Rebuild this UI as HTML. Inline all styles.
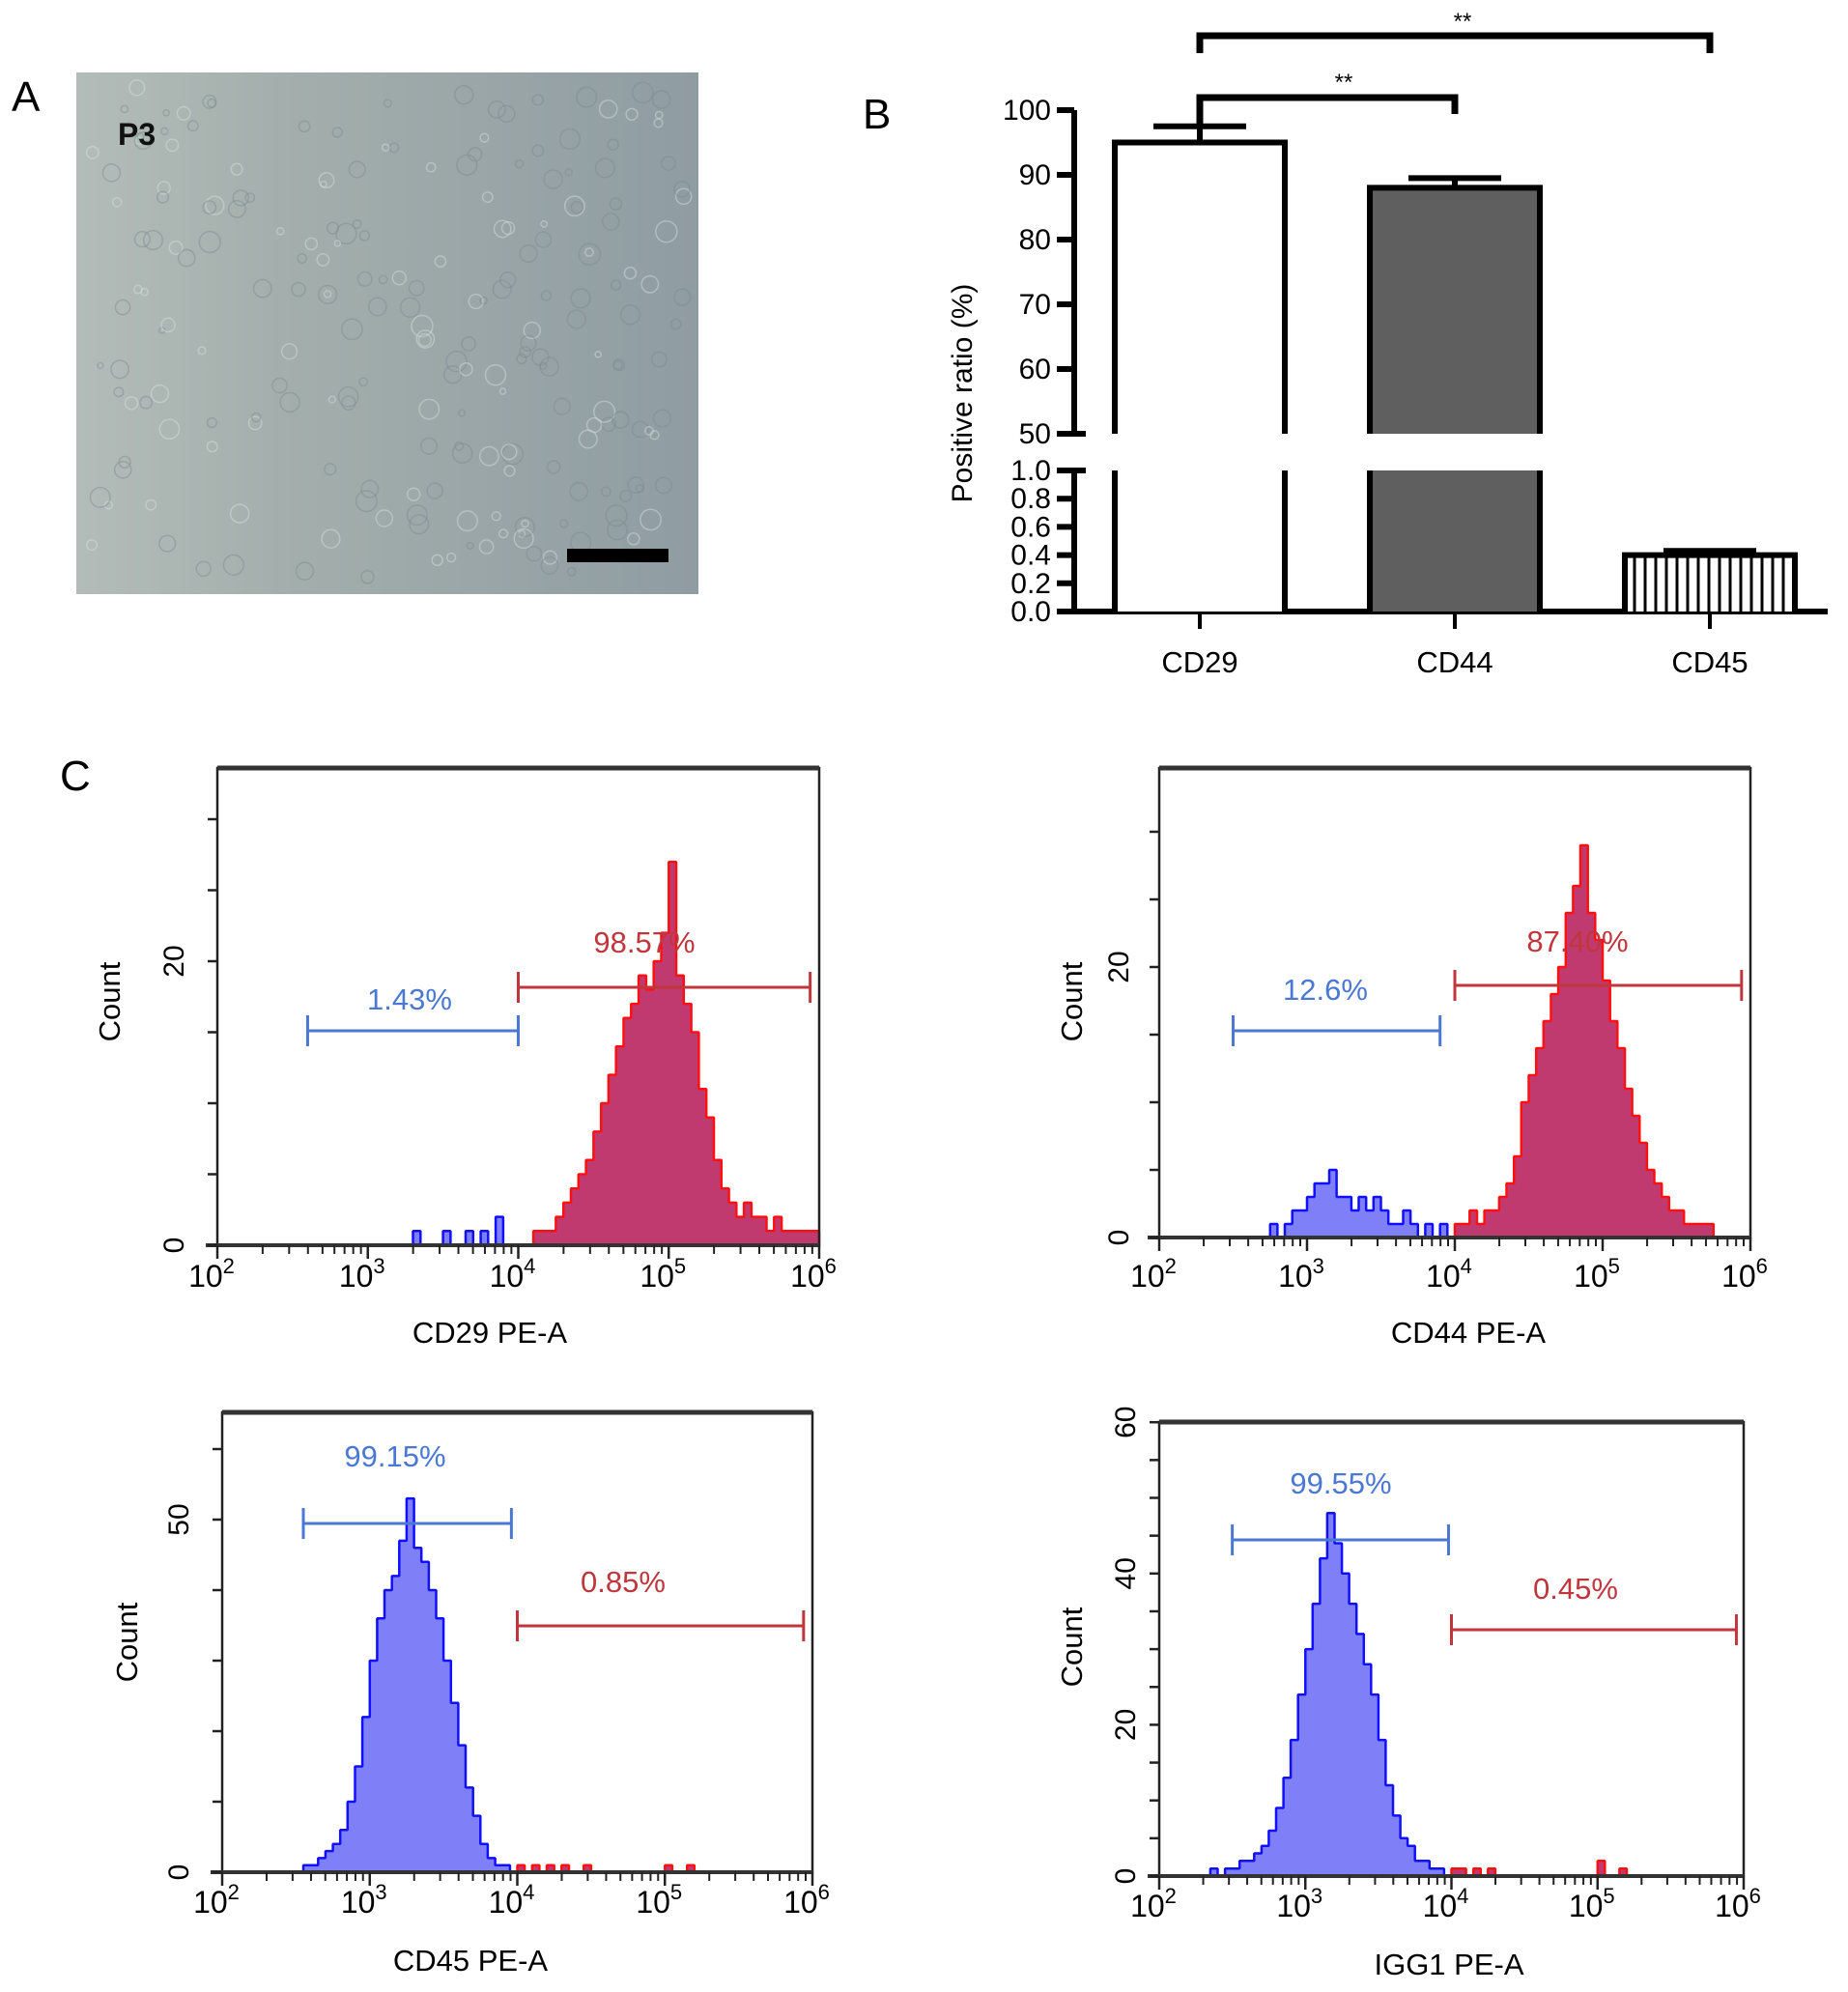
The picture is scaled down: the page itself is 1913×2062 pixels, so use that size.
<!DOCTYPE html>
<html><head><meta charset="utf-8"><style>
html,body{margin:0;padding:0;background:#fff;}
svg{display:block;font-family:"Liberation Sans",Arial,sans-serif;}
</style></head><body>
<svg id="fig" width="1913" height="2062" viewBox="0 0 1913 2062" xmlns="http://www.w3.org/2000/svg">
<defs>
<linearGradient id="micro" x1="0" y1="0" x2="1" y2="0">
<stop offset="0" stop-color="#b3bcb8"/><stop offset="0.35" stop-color="#a3aeac"/><stop offset="1" stop-color="#8f9ca2"/>
</linearGradient>
</defs>
<g>
<text x="12" y="115" font-size="44">A</text>
<rect x="79" y="75" width="644" height="540" fill="url(#micro)"/>
<g id="cells"></g>
<text x="122" y="150" font-size="32" font-weight="bold" fill="#111">P3</text>
<rect x="587" y="568" width="105" height="14" fill="#000"/>
</g>
<g id="panelB">
<text x="893" y="133" font-size="44">B</text>
</g>
<g id="panelC">
<text x="62" y="818" font-size="44">C</text>
</g>
</svg>
<script>
// ---------- Panel B data ----------
const barCategories = ['CD29','CD44','CD45'];
const barValues = [95, 88, 0.4];
const barErrors = [2.5, 1.5, 0.03];
const upperTicks = [50,60,70,80,90,100];
const lowerTicks = [0.0,0.2,0.4,0.6,0.8,1.0];

// ---------- Panel C data (counts per 0.05-decade bin from 10^2) ----------
const cd29Counts = [0,0,0,0,0,0,0,0,0,0,0,0,0,0,0,0,0,0,0,0,0,0,0,0,0,0,1,0,0,0,1,0,0,1,0,1,0,2,0,0,0,0,1,1,1,2,3,4,5,6,8,10,12,14,16,17,19,18,20,22,27,19,17,15,11,9,6,4,3,2,3,2,2,1,2,1,1,1,1,1];
const cd44Counts = [0,0,0,0,0,0,0,0,0,0,0,0,0,0,0,1,0,1,2,2,3,4,4,5,3,3,2,3,2,3,2,1,1,2,1,0,1,0,1,0,1,1,2,1,2,2,3,4,6,10,12,14,16,18,20,24,26,29,24,22,19,16,14,11,9,7,5,4,3,2,2,1,1,1,1,0,0,0,0,0];
const cd45Counts = [0,0,0,0,0,0,0,0,0,0,0,1,1,2,3,4,6,10,15,22,30,36,40,42,47,53,46,44,40,36,30,24,18,12,8,4,2,1,1,0,1,0,1,0,1,0,1,0,0,1,0,0,0,0,0,0,0,0,0,0,1,0,0,1,0,0,0,0,0,0,0,0,0,0,0,0,0,0,0,0];
const igg1Counts = [0,0,0,0,0,0,0,1,0,1,1,2,2,3,4,6,9,13,18,24,30,36,42,48,44,40,36,32,28,24,18,12,8,5,4,2,2,1,1,0,1,1,0,1,0,1,0,0,0,0,0,0,0,0,0,0,0,0,0,0,2,0,0,1,0,0,0,0,0,0,0,0,0,0,0,0,0,0,0,0];
const gateLabels = [['1.43%','98.57%'],['12.6%','87.40%'],['99.15%','0.85%'],['99.55%','0.45%']];
const axisTitles = ['CD29 PE-A','CD44 PE-A','CD45 PE-A','IGG1 PE-A'];

const NS='http://www.w3.org/2000/svg';
function mk(tag, attrs, parent, txt){
  const e=document.createElementNS(NS,tag);
  for(const k in attrs) e.setAttribute(k,attrs[k]);
  if(txt!==undefined) e.textContent=txt;
  parent.appendChild(e); return e;
}

// cell texture (decorative)
(function(){
  const g=document.getElementById('cells');
  let s=7;
  function rnd(){ s=(s*16807)%2147483647; return s/2147483647; }
  for(let i=0;i<220;i++){
    const c=mk('circle',{cx:(95+rnd()*615).toFixed(1),cy:(90+rnd()*515).toFixed(1),r:(3+rnd()*8).toFixed(1),fill:'none',stroke:rnd()<0.4?'#d8e2de':'#7d8a90','stroke-width':1.5,opacity:0.45},g);
    
    
  }
})();

// ---------- Panel B ----------
(function(){
  const g=document.getElementById('panelB');
  const axX=1112, xEnd=1892;
  const catX=[1242,1506,1770], barW=176;
  function yU(v){ return 449-(v-50)*6.7; }
  function yL(v){ return 633-v*146; }
  function yV(v){ return v>=50 ? yU(v) : (v<=1 ? yL(v) : null); }
  const lw=6;
  let e=mk('line',{x1:axX,y1:yU(100),x2:axX,y2:yU(50),stroke:'#000','stroke-width':lw},g);
   
  e=mk('line',{x1:axX,y1:yL(1),x2:axX,y2:yL(0),stroke:'#000','stroke-width':lw},g);
   
  e=mk('line',{x1:axX-18,y1:yL(0),x2:xEnd,y2:yL(0),stroke:'#000','stroke-width':lw},g);
   
  upperTicks.forEach(v=>{
    const t=mk('line',{x1:axX-18,y1:yU(v),x2:axX+(v===50?12:0),y2:yU(v),stroke:'#000','stroke-width':lw},g);
     
    const l=mk('text',{x:axX-24,y:yU(v)+10,'font-size':30,'text-anchor':'end'},g,String(v));
     
  });
  lowerTicks.forEach(v=>{
    const t=mk('line',{x1:axX-18,y1:yL(v),x2:axX+(v===1?12:0),y2:yL(v),stroke:'#000','stroke-width':lw},g);
     
    const l=mk('text',{x:axX-24,y:yL(v)+10,'font-size':30,'text-anchor':'end'},g,v.toFixed(1));
     
  });
  const yl=mk('text',{x:0,y:0,'font-size':30,'text-anchor':'middle',transform:'translate(1006,407) rotate(-90)'},g,'Positive ratio (%)');
   
  const fills=['#fff','#5f5f5f','#fff'];
  barValues.forEach((v,i)=>{
    const x0=catX[i]-barW/2, x1=catX[i]+barW/2;
    const bg=mk('g',{},g);
    
    
    const segs=[];
    if(v>=50){ segs.push([yU(v),yU(50),true]); segs.push([yL(1),yL(0),false]); }
    else segs.push([yL(v),yL(0),true]);
    segs.forEach(sg=>{
      mk('rect',{x:x0,y:sg[0],width:barW,height:sg[1]-sg[0],fill:fills[i]},bg);
      if(i===2){
        for(let hx=x0+10;hx<x1-4;hx+=11) mk('line',{x1:hx,y1:sg[0],x2:hx,y2:sg[1],stroke:'#000','stroke-width':3},bg);
      }
      mk('line',{x1:x0,y1:sg[0],x2:x0,y2:sg[1],stroke:'#000','stroke-width':lw},bg);
      mk('line',{x1:x1,y1:sg[0],x2:x1,y2:sg[1],stroke:'#000','stroke-width':lw},bg);
      if(sg[2]) mk('line',{x1:x0-3,y1:sg[0],x2:x1+3,y2:sg[0],stroke:'#000','stroke-width':lw},bg);
    });
    const et=yV(v+barErrors[i]);
    const eb=mk('g',{},g);
    
    
    mk('line',{x1:catX[i],y1:yV(v),x2:catX[i],y2:et,stroke:'#000','stroke-width':lw},eb);
    mk('line',{x1:catX[i]-48,y1:et,x2:catX[i]+48,y2:et,stroke:'#000','stroke-width':lw},eb);
    const tk=mk('line',{x1:catX[i],y1:yL(0),x2:catX[i],y2:yL(0)+18,stroke:'#000','stroke-width':4},g);
     
    const cl=mk('text',{x:catX[i],y:696,'font-size':31,'text-anchor':'middle'},g,barCategories[i]);
     
  });
  const b1=mk('path',{d:`M${catX[0]},55 L${catX[0]},37 L${catX[2]},37 L${catX[2]},55`,fill:'none',stroke:'#000','stroke-width':7},g);
   
  const b2=mk('path',{d:`M${catX[0]},${yV(barValues[0]+barErrors[0])} L${catX[0]},101 L${catX[1]},101 L${catX[1]},118`,fill:'none',stroke:'#000','stroke-width':7},g);
   
  let s=mk('text',{x:1514,y:30,'font-size':24,'text-anchor':'middle'},g,'**');
   
  s=mk('text',{x:1391,y:93,'font-size':24,'text-anchor':'middle'},g,'**');
   
})();

// ---------- Panel C ----------
const plots=[
 {counts:cd29Counts,x0:225,x1:848,yTop:795,y0:1289,pxPer:14.7,yMax:30,tickStep:5,labels:[0,20],gates:[[2.6,4.0,1067],[4.0,5.94,1022]],lab:[[424,1034],[667,975]],tickX:180,countX:112,countY:1037,tickLabY:1332,titleY:1390,titleX:507},
 {counts:cd44Counts,x0:1200,x1:1812,yTop:795,y0:1281,pxPer:14.0,yMax:30,tickStep:5,labels:[0,20],gates:[[2.5,3.9,1067],[4.0,5.94,1020]],lab:[[1372,1024],[1633,974]],tickX:1158,countX:1108,countY:1037,tickLabY:1332,titleY:1390,titleX:1520},
 {counts:cd45Counts,x0:230,x1:841,yTop:1462,y0:1938,pxPer:7.3,yMax:60,tickStep:10,labels:[0,50],gates:[[2.55,3.96,1577],[4.0,5.94,1683]],lab:[[409,1507],[645,1637]],tickX:185,countX:130,countY:1700,tickLabY:1980,titleY:2040,titleX:487},
 {counts:igg1Counts,x0:1200,x1:1805,yTop:1472,y0:1942,pxPer:7.83,yMax:60,tickStep:5,labels:[0,20,40,60],gates:[[2.5,3.98,1594],[4.0,5.95,1687]],lab:[[1388,1535],[1631,1644]],tickX:1165,countX:1108,countY:1705,tickLabY:1984,titleY:2044,titleX:1500}
];
(function(){
  const root=document.getElementById('panelC');
  plots.forEach((p,pi)=>{
    const g=mk('g',{},root);
    
    
    const xs=d=>p.x0+(d-2)/4*(p.x1-p.x0);
    const ys=c=>p.y0-c*p.pxPer;
    const bw=0.05;
    function stepPath(from,to){
      let d=`M${xs(2+from*bw).toFixed(1)},${p.y0}`;
      for(let i=from;i<to;i++){
        const yy=ys(p.counts[i]).toFixed(1);
        d+=` L${xs(2+i*bw).toFixed(1)},${yy} L${xs(2+(i+1)*bw).toFixed(1)},${yy}`;
      }
      d+=` L${xs(2+to*bw).toFixed(1)},${p.y0} Z`;
      return d;
    }
    const n=p.counts.length;
    const blue=mk('path',{d:stepPath(0,40),fill:'#7f7ff7',stroke:'#1010ff','stroke-width':2.5,'stroke-linejoin':'bevel'},g);
    
    
    const red=mk('path',{d:stepPath(40,n),fill:'#c03a70',stroke:'#ff1010','stroke-width':2.5,'stroke-linejoin':'bevel'},g);
    
    
    const fr=mk('rect',{x:p.x0,y:p.yTop,width:p.x1-p.x0,height:p.y0-p.yTop,fill:'none',stroke:'#222','stroke-width':2.5},g);
     
    const tl=mk('line',{x1:p.x0,y1:p.yTop,x2:p.x1,y2:p.yTop,stroke:'#333','stroke-width':5},g);
     
    const bl=mk('line',{x1:p.x0-12,y1:p.y0,x2:p.x1,y2:p.y0,stroke:'#333','stroke-width':4},g);
     
    for(let v=0;v<=p.yMax;v+=p.tickStep){
      const yy=ys(v); if(yy<p.yTop-2) break;
      const t=mk('line',{x1:p.x0-10,y1:yy,x2:p.x0,y2:yy,stroke:'#222','stroke-width':2.5},g);
       
    }
    p.labels.forEach(v=>{
      const l=mk('text',{x:0,y:0,'font-size':30,'text-anchor':'middle',transform:`translate(${p.tickX+10},${ys(v)}) rotate(-90)`},g,String(v));
       
    });
    const ct=mk('text',{x:0,y:0,'font-size':31,'text-anchor':'middle',transform:`translate(${p.countX+12},${p.countY}) rotate(-90)`},g,'Count');
     
    for(let dec=2;dec<=6;dec++){
      const t=mk('line',{x1:xs(dec),y1:p.y0,x2:xs(dec),y2:p.y0+14,stroke:'#222','stroke-width':2.5},g);
       
      const l=mk('text',{x:xs(dec)-6,y:p.tickLabY,'font-size':32,'text-anchor':'middle'},g);
       
      mk('tspan',{},l,'10');
      mk('tspan',{'font-size':22,dy:-14},l,String(dec));
      if(dec<6){
        for(let m=2;m<=9;m++){
          const mx=xs(dec+Math.log10(m));
          const mt=mk('line',{x1:mx,y1:p.y0,x2:mx,y2:p.y0+9,stroke:'#222','stroke-width':2},g);
           
        }
      }
    }
    const xt=mk('text',{x:p.titleX,y:p.titleY,'font-size':31,'text-anchor':'middle'},g,axisTitles[pi]);
     
    const cols=['#4a78d2','#c0363c'];
    p.gates.forEach((gt,gi)=>{
      const gg=mk('g',{},g);
      
      
      const a=xs(gt[0]), b=xs(gt[1]);
      mk('line',{x1:a,y1:gt[2],x2:b,y2:gt[2],stroke:cols[gi],'stroke-width':3},gg);
      mk('line',{x1:a,y1:gt[2]-16,x2:a,y2:gt[2]+16,stroke:cols[gi],'stroke-width':3},gg);
      mk('line',{x1:b,y1:gt[2]-16,x2:b,y2:gt[2]+16,stroke:cols[gi],'stroke-width':3},gg);
      const lt=mk('text',{x:p.lab[gi][0],y:p.lab[gi][1]+11,'font-size':31,'text-anchor':'middle',fill:cols[gi]},g,gateLabels[pi][gi]);
       
    });
  });
})();
</script>
</body></html>
